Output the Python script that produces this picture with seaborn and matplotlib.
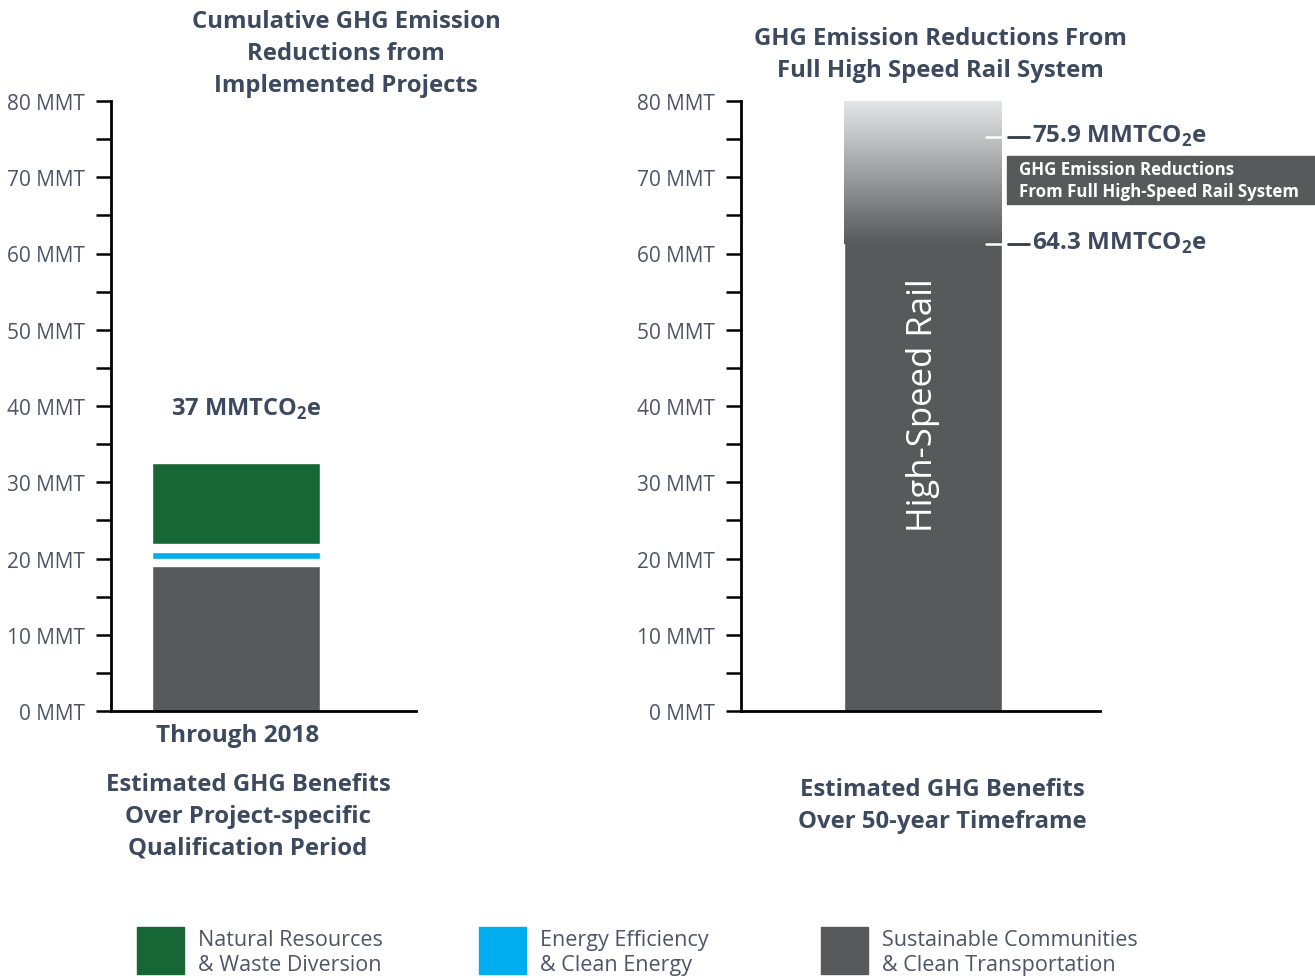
import numpy as np
import matplotlib
matplotlib.use("Agg")
import matplotlib.pyplot as plt
from matplotlib.colors import LinearSegmentedColormap
import seaborn as sns

#%% data
left_category = ["Through 2018"]
sustainable = [19.0]      # gray segment
energy = [0.9]            # blue segment
natural = [10.6]          # green segment
left_total_label = "37 MMTCO$_\\mathbf{2}$e"

right_category = ["High-Speed Rail"]
hsr_bar = [80.0]
hsr_labels = ["75.9", "64.3"]
hsr_marks = [75.3, 61.2]   # where the marker lines sit in the picture

yticks = list(range(0, 90, 10))
ytick_labels = [f"{v} MMT" for v in yticks]
legend_labels = ["Natural Resources\n& Waste Diversion",
                 "Energy Efficiency\n& Clean Energy",
                 "Sustainable Communities\n& Clean Transportation"]

#%% style
sns.set_theme(style="white")
plt.rcParams["font.family"] = ["Open Sans", "DejaVu Sans"]
plt.rcParams["mathtext.fontset"] = "custom"
plt.rcParams["mathtext.rm"] = "Open Sans"
plt.rcParams["mathtext.bf"] = "Open Sans:bold"

GREEN = "#166636"
BLUE = "#00adee"
GRAY = "#58595b"
TXT = "#3c495e"
TICK_TXT = "#4d5566"
gap = 1.0

fig = plt.figure(figsize=(13.15, 9.79), dpi=100)
ax1 = fig.add_axes([111/1315, 1-712/979, 305/1315, 610/979])
ax2 = fig.add_axes([741/1315, 1-712/979, 359/1315, 610/979])

def style_axis(ax):
    ax.set_ylim(0, 80)
    ax.set_yticks(yticks)
    ax.set_yticklabels(ytick_labels)
    ax.set_yticks(range(5, 80, 10), minor=True)
    for s in ["top", "right"]:
        ax.spines[s].set_visible(False)
    for s in ["left", "bottom"]:
        ax.spines[s].set_color("black")
        ax.spines[s].set_linewidth(2.0)
    ax.tick_params(axis="y", which="both", left=True, direction="out",
                   length=11, width=1.8, color="black", pad=8,
                   labelsize=15, labelcolor=TICK_TXT)
    ax.tick_params(axis="x", bottom=False, labelbottom=False)
    ax.set_xlabel("")
    ax.set_ylabel("")

#%% left stacked bar
x = np.arange(len(left_category))
ax1.bar(x, sustainable, width=1.0, color=GRAY)
b2 = np.array(sustainable) + gap
ax1.bar(x, energy, bottom=b2, width=1.0, color=BLUE)
b3 = b2 + np.array(energy) + gap
ax1.bar(x, natural, bottom=b3, width=1.0, color=GREEN)
ax1.set_xlim(-0.5 - 41/168, 0.5 + 96/168)
style_axis(ax1)
ax1.text(0.06, 39.7, left_total_label, ha="center", va="center",
         fontsize=17, fontweight="bold", color=TXT)
ax1.text(0.01, -3.2, left_category[0], ha="center", va="center",
         fontsize=17.5, fontweight="bold", color=TXT)

#%% right bar with faded top
sns.barplot(x=right_category, y=hsr_bar, color=GRAY, width=1.0,
            saturation=1, ax=ax2)
style_axis(ax2)
cmap = LinearSegmentedColormap.from_list("fade", ["#e6e7e8", GRAY])
grad = np.linspace(0, 1, 256).reshape(-1, 1)
ax2.imshow(grad, cmap=cmap, aspect="auto", extent=(-0.5, 0.5, hsr_marks[1], 80),
           origin="upper", zorder=3, interpolation="bilinear")
ax2.set_xlim(-0.5 - 103/158, 0.5 + 98/158)
ax2.set_ylim(0, 80)
ax2.text(0, 40.3, right_category[0], rotation=90, ha="center", va="center",
         fontsize=25, color="white", zorder=4)

for lab, v in zip(hsr_labels, hsr_marks):
    ax2.plot([0.4, 0.495], [v, v], color="white", lw=1.8, zorder=5,
             clip_on=False)
    ax2.plot([0.54, 0.67], [v, v], color="#2f3a4c", lw=2.0, zorder=5,
             clip_on=False)
    ax2.text(0.69, v + 0.2, f"{lab} MMTCO$_\\mathbf{{2}}$e", ha="left",
             va="center", fontsize=17.5, fontweight="bold", color=TXT,
             clip_on=False)

fig.patches.append(plt.Rectangle((1007/1315, 1-205/979), 308/1315, 48/979,
                                 transform=fig.transFigure, color=GRAY))
fig.text(1019/1315, 1-181/979,
         "GHG Emission Reductions\nFrom Full High-Speed Rail System",
         ha="left", va="center", fontsize=12.2, fontweight="bold",
         color="white", linespacing=1.25)

#%% titles and captions
fig.text(346/1315, 1-54/979,
         "Cumulative GHG Emission\nReductions from\nImplemented Projects",
         ha="center", va="center", fontsize=17.2, fontweight="bold",
         color=TXT, linespacing=1.42)
fig.text(940/1315, 1-55/979,
         "GHG Emission Reductions From\nFull High Speed Rail System",
         ha="center", va="center", fontsize=17.2, fontweight="bold",
         color=TXT, linespacing=1.42)
fig.text(248/1315, 1-817/979,
         "Estimated GHG Benefits\nOver Project-specific\nQualification Period",
         ha="center", va="center", fontsize=17.2, fontweight="bold",
         color=TXT, linespacing=1.42)
fig.text(942/1315, 1-806/979,
         "Estimated GHG Benefits\nOver 50-year Timeframe",
         ha="center", va="center", fontsize=17.2, fontweight="bold",
         color=TXT, linespacing=1.42)

#%% legend, placed by hand
for i, (c, lab) in enumerate(zip([GREEN, BLUE, GRAY], legend_labels)):
    x0 = 137 + i * 342
    fig.patches.append(plt.Rectangle((x0/1315, 1-975/979), 47/1315, 47/979,
                                     transform=fig.transFigure, color=c))
    fig.text((x0 + 61)/1315, 1-953/979, lab, ha="left", va="center",
             fontsize=15.5, color=TICK_TXT, linespacing=1.25)

fig.savefig("out.png", dpi=100)
